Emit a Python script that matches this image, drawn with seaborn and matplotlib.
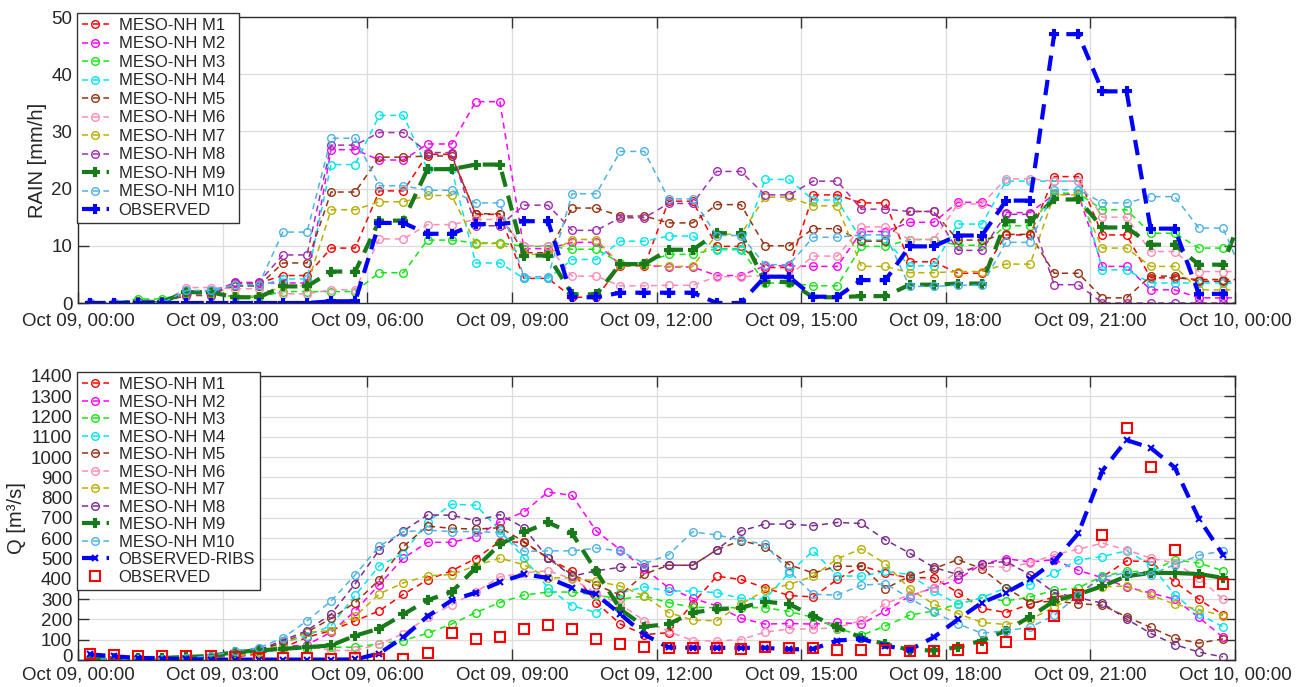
import numpy as np
import pandas as pd
import matplotlib
matplotlib.use("Agg")
import matplotlib.pyplot as plt
import matplotlib.dates as mdates
import matplotlib.transforms as mtransforms
import seaborn as sns

# ---------------------------------------------------------------------------
# Hourly rainfall [mm/h], hours 00 .. 24 (each hour is drawn at :15 and :45)
# ---------------------------------------------------------------------------
rain_m1 = [0.0, 0.2, 1.8, 3.5, 4.8, 9.6, 19.6, 26.0, 15.5, 4.3, 1.0, 6.5, 17.8, 9.9, 6.2, 18.9, 17.5, 7.2, 5.2, 11.9, 22.1, 11.9, 4.4, 4.1, 4.1]
rain_m2 = [0.0, 0.2, 2.0, 3.5, 3.5, 26.8, 25.0, 27.8, 35.2, 9.5, 10.6, 6.6, 6.3, 4.8, 6.5, 6.4, 12.5, 14.1, 17.6, 15.8, 19.0, 6.4, 2.3, 0.9, 0.9]
rain_m3 = [0.0, 0.7, 1.8, 1.0, 2.0, 2.0, 5.3, 11.0, 10.5, 9.9, 9.4, 7.0, 8.5, 9.5, 3.5, 3.0, 9.9, 11.1, 10.1, 13.5, 19.2, 16.3, 12.2, 9.6, 9.6]
rain_m4 = [0.0, 0.0, 2.0, 3.0, 4.2, 24.2, 32.8, 23.4, 7.0, 4.3, 7.6, 10.8, 11.7, 9.3, 21.6, 18.0, 11.0, 6.5, 13.8, 21.3, 21.3, 5.8, 3.5, 3.5, 3.5]
rain_m5 = [0.0, 0.2, 1.5, 3.0, 7.0, 19.4, 25.5, 25.7, 15.6, 8.8, 16.6, 15.2, 14.0, 17.2, 10.0, 13.0, 10.8, 16.0, 11.0, 12.0, 5.2, 0.9, 4.7, 3.8, 3.8]
rain_m6 = [0.0, 0.0, 2.7, 2.5, 1.6, 2.3, 11.2, 13.7, 14.6, 10.0, 4.7, 3.0, 3.1, 4.6, 4.8, 8.2, 13.3, 11.1, 17.3, 21.7, 21.3, 15.0, 9.0, 5.5, 5.5]
rain_m7 = [0.0, 0.2, 1.5, 1.2, 3.0, 16.3, 17.7, 18.8, 10.4, 8.5, 11.1, 6.7, 6.4, 12.0, 18.5, 17.0, 6.4, 5.3, 5.5, 6.8, 18.9, 9.6, 6.4, 2.3, 2.3]
rain_m8 = [0.0, 0.2, 1.3, 3.6, 8.4, 27.6, 29.8, 26.3, 13.5, 17.1, 12.7, 14.9, 17.4, 23.0, 18.9, 21.3, 16.4, 16.0, 9.2, 15.5, 3.2, 0.0, 0.0, 0.0, 0.0]
rain_m9 = [0.0, 0.2, 1.9, 1.0, 2.9, 5.5, 14.4, 23.4, 24.2, 8.3, 1.5, 6.8, 9.3, 12.2, 3.7, 1.0, 1.2, 3.2, 3.4, 14.3, 18.1, 13.2, 10.2, 6.7, 17.7]
rain_m10 = [0.0, 0.0, 2.2, 3.2, 12.4, 28.8, 20.5, 19.7, 17.5, 4.6, 19.1, 26.5, 18.2, 11.8, 6.7, 11.5, 11.9, 2.9, 3.1, 10.6, 19.8, 17.5, 18.6, 13.1, 3.3]
rain_obs = [0.0, 0.0, 0.0, 0.0, 0.0, 0.3, 14.0, 12.1, 13.8, 14.3, 1.0, 1.8, 1.8, 0.0, 4.6, 1.1, 4.0, 9.9, 11.8, 17.9, 47.0, 37.0, 13.0, 1.6, 3.0]

# ---------------------------------------------------------------------------
# Discharge [m3/s] every 30 minutes, from 00:15 to 23:45
# ---------------------------------------------------------------------------
q_m1 = [2, 2, 2, 2, 5, 10, 15, 30, 60, 112, 145, 193, 242, 324, 395, 440, 500, 584, 580, 502, 437, 283, 177, 125,
        135, 278, 413, 397, 356, 318, 311, 397, 465, 427, 405, 406, 332, 255, 234, 275, 311, 325, 410, 488, 486, 385, 299, 223]
q_m2 = [2, 2, 2, 2, 5, 15, 30, 50, 65, 75, 137, 242, 372, 502, 580, 580, 608, 681, 730, 828, 811, 636, 543, 450,
        356, 304, 267, 206, 177, 180, 177, 185, 177, 242, 315, 356, 397, 473, 500, 483, 495, 442, 405, 360, 330, 300, 210, 112]
q_m3 = [2, 2, 2, 2, 5, 10, 20, 40, 55, 55, 63, 63, 80, 96, 132, 177, 234, 283, 320, 335, 335, 320, 300, 315,
        283, 260, 258, 258, 258, 239, 210, 155, 122, 168, 221, 242, 275, 307, 291, 311, 343, 356, 413, 437, 434, 494, 478, 440]
q_m4 = [2, 2, 2, 2, 5, 10, 20, 47, 85, 120, 169, 318, 465, 525, 681, 768, 763, 640, 502, 356, 267, 234, 330, 360,
        340, 340, 332, 304, 300, 430, 538, 415, 413, 437, 421, 340, 275, 307, 356, 372, 429, 494, 510, 538, 470, 320, 226, 164]
q_m5 = [5, 5, 5, 5, 8, 12, 20, 50, 85, 137, 205, 283, 395, 560, 660, 649, 645, 652, 584, 502, 420, 370, 320, 424,
        467, 467, 543, 589, 559, 470, 429, 462, 462, 352, 413, 450, 495, 450, 356, 283, 290, 278, 270, 213, 161, 107, 83, 104]
q_m6 = [2, 2, 2, 2, 5, 10, 20, 60, 60, 70, 47, 47, 78, 130, 210, 272, 336, 409, 430, 440, 400, 330, 275, 193,
        141, 96, 93, 101, 137, 153, 153, 160, 195, 280, 320, 353, 437, 462, 457, 478, 519, 546, 576, 543, 502, 478, 405, 299]
q_m7 = [2, 2, 2, 2, 5, 10, 15, 40, 75, 137, 145, 215, 326, 380, 415, 421, 465, 502, 470, 405, 405, 389, 364, 315,
        234, 197, 193, 275, 343, 372, 413, 499, 548, 475, 351, 275, 229, 185, 175, 200, 260, 325, 360, 365, 320, 275, 249, 218]
q_m8 = [5, 5, 5, 5, 8, 15, 25, 50, 96, 145, 226, 376, 543, 636, 715, 714, 686, 717, 652, 502, 413, 440, 457, 457,
        467, 467, 543, 636, 670, 670, 662, 678, 673, 592, 527, 457, 421, 473, 486, 420, 332, 307, 280, 202, 132, 76, 39, 15]
q_m9 = [5, 8, 10, 10, 15, 20, 39, 47, 55, 63, 72, 120, 155, 225, 295, 335, 454, 570, 629, 678, 624, 437, 250, 165,
        177, 234, 250, 258, 288, 275, 218, 161, 110, 78, 50, 47, 63, 96, 145, 213, 291, 324, 364, 413, 429, 429, 424, 405]
q_m10 = [5, 5, 5, 5, 10, 20, 45, 60, 109, 193, 291, 420, 562, 632, 640, 633, 633, 628, 535, 538, 538, 551, 538, 475,
         519, 632, 616, 592, 570, 437, 324, 320, 369, 376, 305, 236, 178, 132, 145, 161, 220, 320, 408, 429, 421, 470, 516, 538]
q_ribs = [28, 18, 10, 7, 3, 2, 2, 2, 2, 2, 2, 3, 32, 112, 215, 294, 332, 384, 422, 405, 356, 323, 226, 125,
          62, 60, 60, 60, 60, 52, 55, 96, 104, 70, 50, 112, 200, 283, 332, 397, 486, 624, 933, 1084, 1046, 949, 697, 518]
q_obs = [31, 26, 20, 20, 20, 20, 15, 11, 11, 10, 7, 10, 7, 7, 33, 132, 104, 112, 155, 175, 153, 104, 80, 63,
         60, 60, 60, 55, 63, 60, 60, 50, 48, 47, 45, 42, 47, 59, 91, 128, 215, 320, 616, 1145, 950, 540, 384, 375]

model_labels = ["MESO-NH M1", "MESO-NH M2", "MESO-NH M3", "MESO-NH M4", "MESO-NH M5",
                "MESO-NH M6", "MESO-NH M7", "MESO-NH M8", "MESO-NH M9", "MESO-NH M10"]

# ---------------------------------------------------------------------------
colors = {
    "MESO-NH M1": "#ff0000", "MESO-NH M2": "#ff00ff", "MESO-NH M3": "#14e614",
    "MESO-NH M4": "#00e6f0", "MESO-NH M5": "#983210", "MESO-NH M6": "#ff8cb4",
    "MESO-NH M7": "#b8b000", "MESO-NH M8": "#a22db2", "MESO-NH M9": "#187a18",
    "MESO-NH M10": "#4db3e6",
}
obs_blue = "#0000ff"
start = pd.Timestamp("2018-10-09 00:00")


def half_hours(n):
    return start + pd.to_timedelta(np.arange(n) * 30 + 15, unit="min")


sns.set_theme(style="whitegrid", rc={
    "grid.color": "#dcdcdc", "grid.linewidth": 0.9,
    "axes.edgecolor": "#2b2b2b", "axes.linewidth": 1.0,
    "legend.numpoints": 1,
})
plt.rcParams["font.family"] = ["Liberation Sans", "DejaVu Sans"]

fig = plt.figure(figsize=(13.05, 6.87), dpi=100)
W, H = 1305.0, 687.0
ax1 = fig.add_axes([78 / W, 1 - 303 / H, 1157 / W, 286 / H])
ax2 = fig.add_axes([78 / W, 1 - 660 / H, 1157 / W, 284 / H])


def model_line(ax, t, y, label, color):
    df = pd.DataFrame({"time": t, "value": y})
    sns.lineplot(data=df, x="time", y="value", ax=ax, color=color, linewidth=1.1,
                 linestyle=(0, (4, 3)), marker="o", markersize=5.5,
                 markerfacecolor="none", markeredgecolor=color, markeredgewidth=1.0,
                 label=label)


def thick_line(ax, t, y, label, color, marker="P", ms=6):
    df = pd.DataFrame({"time": t, "value": y})
    sns.lineplot(data=df, x="time", y="value", ax=ax, color=color, linewidth=3.0,
                 linestyle=(0, (3.7, 2.2)), marker=marker, markersize=ms,
                 markerfacecolor=color, markeredgecolor=color, markeredgewidth=1.5,
                 label=label)


# ---- rainfall panel -------------------------------------------------------
rain_models = [rain_m1, rain_m2, rain_m3, rain_m4, rain_m5,
               rain_m6, rain_m7, rain_m8, rain_m9, rain_m10]
for lab, vals in zip(model_labels, rain_models):
    y = np.repeat(vals, 2)
    t = half_hours(len(y))
    if lab == "MESO-NH M9":
        thick_line(ax1, t, y, lab, colors[lab])
    else:
        model_line(ax1, t, y, lab, colors[lab])
y = np.repeat(rain_obs, 2)
thick_line(ax1, half_hours(len(y)), y, "OBSERVED", obs_blue)

# ---- discharge panel ------------------------------------------------------
q_models = [q_m1, q_m2, q_m3, q_m4, q_m5, q_m6, q_m7, q_m8, q_m9, q_m10]
t48 = half_hours(48)
for lab, vals in zip(model_labels, q_models):
    col = "#7b2d8e" if lab == "MESO-NH M8" else colors[lab]
    if lab == "MESO-NH M9":
        thick_line(ax2, t48, vals, lab, col)
    else:
        model_line(ax2, t48, vals, lab, col)
thick_line(ax2, t48, q_ribs, "OBSERVED-RIBS", obs_blue, marker="x", ms=5)
sns.lineplot(data=pd.DataFrame({"time": t48, "value": q_obs}), x="time", y="value",
             ax=ax2, color="#ff0000", linestyle="none", marker="s", markersize=6.5,
             markerfacecolor="none", markeredgecolor="#ff0000", markeredgewidth=1.5,
             label="OBSERVED")

# ---- axes cosmetics -------------------------------------------------------
panels = [(ax1, (0, 50), 10, "RAIN [mm/h]", 0.21, 7),
          (ax2, (0, 1400), 100, "Q [m\u00b3/s]", 0.15, 5)]
for ax, ylim, step, ylabel, spacing, xpad in panels:
    ax.set_xlim(start, start + pd.Timedelta(hours=24))
    ax.set_ylim(*ylim)
    ax.set_yticks(np.arange(ylim[0], ylim[1] + step, step))
    ax.xaxis.set_major_locator(mdates.HourLocator(byhour=range(0, 24, 3)))
    ax.xaxis.set_major_formatter(mdates.DateFormatter("%b %d, %H:%M"))
    ax.set_xlabel("")
    ax.set_ylabel(ylabel, fontsize=14.5, labelpad=3)
    ax.tick_params(axis="both", which="major", direction="in", length=8, width=1,
                   color="#333333", labelsize=13.5,
                   bottom=True, left=True, top=True, right=True,
                   labelbottom=True, labelleft=True, labeltop=False, labelright=False)
    ax.tick_params(axis="x", pad=xpad)
    ax.tick_params(axis="y", pad=4)
    ax.grid(True, color="#dcdcdc", linewidth=0.9)
    for sp in ax.spines.values():
        sp.set_visible(True)
        sp.set_color("#2b2b2b")
        sp.set_linewidth(1.0)
    handles, labels = ax.get_legend_handles_labels()
    leg = ax.legend(handles, labels, loc="upper left", bbox_to_anchor=(-0.001, 1.014),
                    borderaxespad=0, frameon=True, fancybox=False, framealpha=1,
                    edgecolor="#333333", fontsize=12, handlelength=1.6,
                    handletextpad=0.6, labelspacing=spacing, borderpad=0.3)
    leg.get_frame().set_linewidth(1.0)

# lift the lowest discharge tick label a touch so it clears the date labels
zero_label = ax2.get_yticklabels()[0]
zero_label.set_transform(zero_label.get_transform()
                         + mtransforms.ScaledTranslation(0, 3.5 / 72, fig.dpi_scale_trans))

fig.savefig("out.png", dpi=100)
